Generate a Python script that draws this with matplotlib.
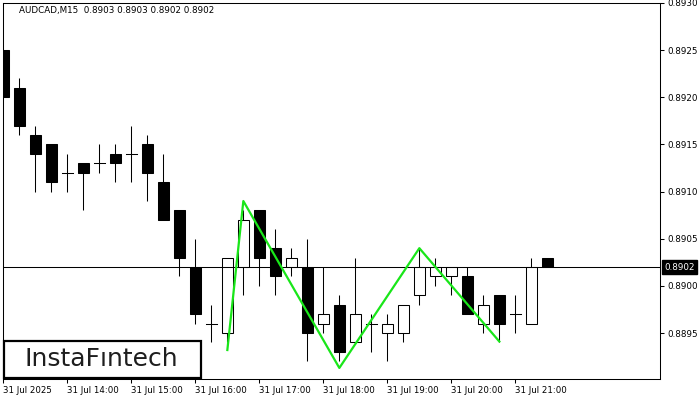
import numpy as np
import matplotlib
matplotlib.use('Agg')
import matplotlib.pyplot as plt
from matplotlib.patches import Rectangle

# AUDCAD M15 candles, 31 Jul 2025 13:00 .. 21:30
opens = [0.8925, 0.8921, 0.8916, 0.8915, 0.8912, 0.8913, 0.8913, 0.8914, 0.8914, 0.8915,
         0.8911, 0.8908, 0.8902, 0.8896, 0.8895, 0.8902, 0.8908, 0.8904, 0.8902, 0.8902,
         0.8896, 0.8898, 0.8894, 0.8896, 0.8895, 0.8895, 0.8899, 0.8901, 0.8901, 0.8901,
         0.8896, 0.8899, 0.8897, 0.8896, 0.8903]
highs = [0.8925, 0.8922, 0.8917, 0.8915, 0.8914, 0.8913, 0.8915, 0.8915, 0.8917, 0.8916,
         0.8914, 0.8908, 0.8905, 0.8898, 0.8903, 0.8908, 0.8908, 0.8906, 0.8904, 0.8905,
         0.8902, 0.8899, 0.8903, 0.8897, 0.8897, 0.8898, 0.8904, 0.8903, 0.8902, 0.8902,
         0.8899, 0.8899, 0.8899, 0.8903, 0.8903]
lows = [0.8920, 0.8916, 0.8910, 0.8910, 0.8910, 0.8908, 0.8912, 0.8911, 0.8911, 0.8909,
        0.8907, 0.8901, 0.8896, 0.8894, 0.8894, 0.8899, 0.8900, 0.8899, 0.8901, 0.8892,
        0.8895, 0.8892, 0.8894, 0.8893, 0.8892, 0.8894, 0.8898, 0.8900, 0.8899, 0.8897,
        0.8895, 0.8894, 0.8895, 0.8896, 0.8902]
closes = [0.8920, 0.8917, 0.8914, 0.8911, 0.8912, 0.8912, 0.8913, 0.8913, 0.8914, 0.8912,
          0.8907, 0.8903, 0.8897, 0.8896, 0.8903, 0.8907, 0.8903, 0.8901, 0.8903, 0.8895,
          0.8897, 0.8893, 0.8897, 0.8896, 0.8896, 0.8898, 0.8902, 0.8902, 0.8902, 0.8897,
          0.8898, 0.8896, 0.8897, 0.8902, 0.8902]

# pattern line (candle index, price)
pattern_idx = [14, 15, 21, 26, 31]
pattern_price = [0.88932, 0.89090, 0.88913, 0.89040, 0.88941]

current_price = 0.8902
x_tick_idx = [0, 4, 8, 12, 16, 20, 24, 28, 32]
x_tick_labels = ['31 Jul 2025', '31 Jul 14:00', '31 Jul 15:00', '31 Jul 16:00',
                 '31 Jul 17:00', '31 Jul 18:00', '31 Jul 19:00', '31 Jul 20:00',
                 '31 Jul 21:00']
y_ticks = [0.8895, 0.8900, 0.8905, 0.8910, 0.8915, 0.8920, 0.8925, 0.8930]
title = 'AUDCAD,M15  0.8903 0.8903 0.8902 0.8902'

W, H = 700, 400
fig = plt.figure(figsize=(7, 4), dpi=100)
ax = fig.add_axes([2.7 / W, 1 - 379 / H, (660 - 2.7) / W, (379 - 3) / H])

px = 0.0001 / 9.43
ax.set_ylim(0.8930 - 376 * px, 0.8930)
ax.set_xlim(-0.04, 41.04)

bw = 0.67
lw = 0.75
for i in range(len(opens)):
    o, h, l, c = opens[i], highs[i], lows[i], closes[i]
    top, bot = max(o, c), min(o, c)
    ax.plot([i, i], [l, h], color='black', lw=lw, zorder=2, solid_capstyle='butt')
    if o == c:
        ax.plot([i - bw / 2, i + bw / 2], [o, o], color='black', lw=lw, zorder=3)
    else:
        face = 'white' if c > o else 'black'
        ax.add_patch(Rectangle((i - bw / 2, bot), bw, top - bot, facecolor=face,
                               edgecolor='black', lw=lw, zorder=3))

ax.axhline(current_price, color='black', lw=lw, zorder=4)
ax.plot(pattern_idx, pattern_price, color='#19e619', lw=1.6, zorder=5)

for s in ax.spines.values():
    s.set_linewidth(0.75)

ax.yaxis.tick_right()
ax.set_yticks(y_ticks)
ax.set_yticklabels(['%.4f' % v for v in y_ticks])
ax.tick_params(axis='y', length=3, width=0.75, pad=2, labelsize=6.3, colors='black')
ax.set_xticks(x_tick_idx)
ax.set_xticklabels(x_tick_labels, ha='left')
ax.tick_params(axis='x', length=3, width=0.75, pad=2, labelsize=6.2, colors='black')

ax.text(16 / (660 - 2.7), 1 - 7 / 376, title, transform=ax.transAxes,
        fontsize=6.3, va='center', ha='left', color='black')

# current price label on the right scale
ax.text(1.006, (current_price - (0.8930 - 376 * px)) / (376 * px), '0.8902',
        transform=ax.transAxes, fontsize=6.3, color='white', va='center', ha='left',
        bbox=dict(boxstyle='square,pad=0.25', facecolor='black', edgecolor='black'),
        zorder=10, clip_on=False)

# logo box
fig.patches.append(Rectangle((3.5 / W, 1 - 378 / H), 197.5 / W, 37 / H,
                             transform=fig.transFigure, facecolor='white',
                             edgecolor='black', lw=1.6, zorder=20))
fig.text(101.5 / W, 1 - 359.5 / H, 'InstaF\u0131ntech', fontsize=18, color='#1e1e1e',
         ha='center', va='center', zorder=21)

fig.savefig('out.png', dpi=100)
